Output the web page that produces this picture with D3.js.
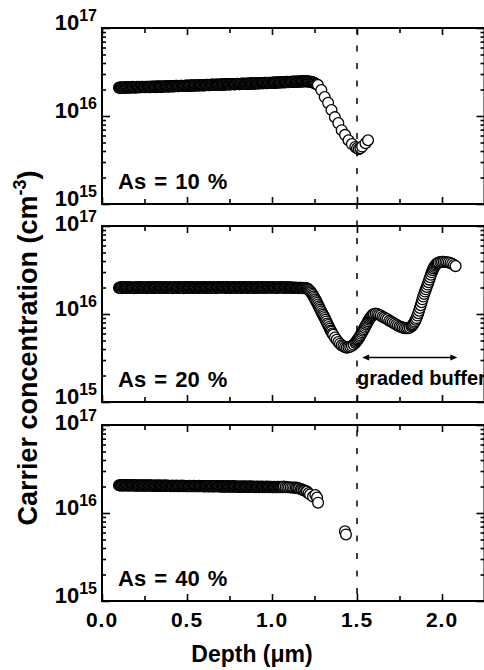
<!DOCTYPE html>
<html><head><meta charset="utf-8">
<script src="https://cdn.jsdelivr.net/npm/d3@7"></script>
<style>
html,body{margin:0;padding:0;background:#fff;overflow:hidden}
svg{display:block}
text{font-family:"Liberation Sans",Arial,Helvetica,sans-serif;font-weight:bold;fill:#000}
</style></head>
<body>
<svg id="chart" width="484" height="670"></svg>
<script>
// ---- data (depth in µm, carrier concentration in units of 1e16 cm^-3) ----
const depthA = [
0.100,0.105,0.110,0.115,0.120,0.125,0.130,0.135,0.140,0.145,0.150,0.155,0.160,0.165,0.170,0.175,0.180,0.185,0.190,0.195,
0.200,0.205,0.210,0.215,0.220,0.225,0.230,0.235,0.240,0.245,0.250,0.255,0.260,0.265,0.270,0.275,0.280,0.285,0.290,0.295,
0.300,0.305,0.310,0.315,0.320,0.325,0.330,0.335,0.340,0.345,0.350,0.355,0.360,0.365,0.370,0.375,0.380,0.385,0.390,0.395,
0.400,0.405,0.410,0.415,0.420,0.425,0.430,0.435,0.440,0.445,0.450,0.455,0.460,0.465,0.470,0.475,0.480,0.485,0.490,0.495,
0.500,0.505,0.510,0.515,0.520,0.525,0.530,0.535,0.540,0.545,0.550,0.555,0.560,0.565,0.570,0.575,0.580,0.585,0.590,0.595,
0.600,0.605,0.610,0.615,0.620,0.625,0.630,0.635,0.640,0.645,0.650,0.655,0.660,0.665,0.670,0.675,0.680,0.685,0.690,0.695,
0.700,0.705,0.710,0.715,0.720,0.725,0.730,0.735,0.740,0.745,0.750,0.755,0.760,0.765,0.770,0.775,0.780,0.785,0.790,0.795,
0.800,0.805,0.810,0.815,0.820,0.825,0.830,0.835,0.840,0.845,0.850,0.855,0.860,0.865,0.870,0.875,0.880,0.885,0.890,0.895,
0.900,0.905,0.910,0.915,0.920,0.925,0.930,0.935,0.940,0.945,0.950,0.955,0.960,0.965,0.970,0.975,0.980,0.985,0.990,0.995,
1.000,1.005,1.010,1.015,1.020,1.025,1.030,1.035,1.040,1.045,1.050,1.055,1.060,1.065,1.070,1.075,1.080,1.085,1.090,1.095,
1.100,1.105,1.110,1.115,1.120,1.125,1.130,1.135,1.140,1.145,1.150,1.155,1.160,1.165,1.170,1.175,1.180,1.185,1.190,1.195,
1.200,1.205,1.210,1.215,1.220,1.225,1.230,1.235,1.240,1.245,1.250,1.255,1.260,1.265,1.270,
1.29,1.31,1.33,1.35,1.37,1.39,1.41,1.43,1.45,1.47,1.49,1.50,1.51,1.52,1.53,1.55,1.565];
const concA = [
2.10,2.08,2.12,2.10,2.09,2.12,2.11,2.09,2.13,2.11,2.10,2.12,2.12,2.10,2.11,2.13,2.14,2.11,2.12,2.10,
2.13,2.15,2.11,2.13,2.14,2.12,2.12,2.14,2.15,2.12,2.13,2.15,2.12,2.14,2.15,2.13,2.14,2.12,2.16,2.14,
2.14,2.16,2.15,2.13,2.17,2.15,2.15,2.17,2.16,2.14,2.14,2.16,2.17,2.15,2.16,2.18,2.18,2.16,2.16,2.17,
2.17,2.19,2.19,2.17,2.17,2.19,2.18,2.20,2.20,2.18,2.18,2.20,2.19,2.21,2.21,2.19,2.19,2.21,2.20,2.22,
2.22,2.20,2.20,2.22,2.21,2.23,2.23,2.21,2.21,2.23,2.22,2.24,2.24,2.22,2.22,2.24,2.23,2.25,2.25,2.23,
2.23,2.25,2.24,2.26,2.26,2.24,2.24,2.26,2.25,2.27,2.27,2.25,2.25,2.27,2.26,2.28,2.28,2.26,2.26,2.28,
2.27,2.29,2.29,2.27,2.27,2.29,2.28,2.30,2.30,2.28,2.28,2.30,2.29,2.31,2.31,2.29,2.29,2.31,2.30,2.32,
2.32,2.30,2.30,2.32,2.31,2.33,2.33,2.31,2.31,2.33,2.32,2.34,2.34,2.32,2.33,2.35,2.35,2.33,2.33,2.35,
2.34,2.36,2.36,2.34,2.34,2.36,2.35,2.37,2.37,2.35,2.36,2.38,2.38,2.36,2.36,2.38,2.37,2.39,2.39,2.37,
2.38,2.40,2.40,2.38,2.39,2.41,2.41,2.39,2.40,2.42,2.42,2.40,2.41,2.43,2.43,2.41,2.42,2.44,2.44,2.42,
2.43,2.45,2.45,2.43,2.44,2.46,2.46,2.44,2.45,2.47,2.47,2.45,2.46,2.48,2.48,2.46,2.47,2.49,2.48,2.47,
2.48,2.48,2.47,2.47,2.46,2.45,2.44,2.43,2.41,2.39,2.37,2.34,2.31,2.28,2.25,
1.97,1.64,1.41,1.17,0.97,0.83,0.69,0.61,0.53,0.48,0.445,0.43,0.42,0.43,0.45,0.49,0.53];

const depthB = [
0.100,0.105,0.110,0.115,0.120,0.125,0.130,0.135,0.140,0.145,0.150,0.155,0.160,0.165,0.170,0.175,0.180,0.185,0.190,0.195,
0.200,0.205,0.210,0.215,0.220,0.225,0.230,0.235,0.240,0.245,0.250,0.255,0.260,0.265,0.270,0.275,0.280,0.285,0.290,0.295,
0.300,0.305,0.310,0.315,0.320,0.325,0.330,0.335,0.340,0.345,0.350,0.355,0.360,0.365,0.370,0.375,0.380,0.385,0.390,0.395,
0.400,0.405,0.410,0.415,0.420,0.425,0.430,0.435,0.440,0.445,0.450,0.455,0.460,0.465,0.470,0.475,0.480,0.485,0.490,0.495,
0.500,0.505,0.510,0.515,0.520,0.525,0.530,0.535,0.540,0.545,0.550,0.555,0.560,0.565,0.570,0.575,0.580,0.585,0.590,0.595,
0.600,0.605,0.610,0.615,0.620,0.625,0.630,0.635,0.640,0.645,0.650,0.655,0.660,0.665,0.670,0.675,0.680,0.685,0.690,0.695,
0.700,0.705,0.710,0.715,0.720,0.725,0.730,0.735,0.740,0.745,0.750,0.755,0.760,0.765,0.770,0.775,0.780,0.785,0.790,0.795,
0.800,0.805,0.810,0.815,0.820,0.825,0.830,0.835,0.840,0.845,0.850,0.855,0.860,0.865,0.870,0.875,0.880,0.885,0.890,0.895,
0.900,0.905,0.910,0.915,0.920,0.925,0.930,0.935,0.940,0.945,0.950,0.955,0.960,0.965,0.970,0.975,0.980,0.985,0.990,0.995,
1.000,1.005,1.010,1.015,1.020,1.025,1.030,1.035,1.040,1.045,1.050,1.055,1.060,1.065,1.070,1.075,1.080,1.085,1.090,1.095,
1.100,1.105,1.110,1.115,1.120,1.125,1.130,1.135,1.140,1.145,1.150,1.155,1.160,1.165,1.170,1.175,1.180,1.185,1.190,1.195,
1.200,1.205,1.210,1.215,1.220,1.225,1.230,1.235,1.240,1.245,1.250,1.255,1.260,1.265,1.270,1.275,1.280,1.285,1.290,1.295,
1.300,1.305,1.310,1.315,1.320,1.325,1.330,1.335,1.340,1.345,1.350,1.355,1.360,
1.37,1.38,1.39,1.40,1.41,1.42,1.43,1.44,1.45,1.46,1.47,1.48,1.49,
1.495,1.500,1.505,1.510,1.515,1.520,1.525,1.530,1.535,1.540,1.545,1.550,1.555,1.560,1.565,1.570,1.575,1.580,1.585,1.590,1.595,1.600,
1.61,1.62,1.63,1.64,1.65,1.66,1.67,1.68,1.69,1.70,1.71,1.72,1.73,1.74,1.75,1.76,1.77,1.78,1.79,1.80,1.81,
1.820,1.825,1.830,1.835,1.840,1.845,1.850,1.855,1.860,1.865,1.870,1.875,1.880,1.885,1.890,1.895,1.900,1.905,1.910,1.915,
1.920,1.925,1.930,1.935,1.940,1.945,1.950,1.955,1.960,1.965,1.970,1.975,1.980,
1.99,2.00,2.01,2.02,2.03,2.04,2.05,2.06,2.07,2.08];
const concB = [
1.98,2.01,2.00,1.97,2.01,2.02,1.99,1.98,2.00,2.02,1.98,2.00,2.02,1.99,1.99,2.01,2.00,1.97,1.98,2.01,
2.01,1.99,1.98,2.02,2.00,1.99,2.01,2.02,1.98,2.00,1.99,2.01,1.97,2.00,2.02,1.99,2.01,2.00,1.98,2.02,
1.98,2.00,2.01,1.99,1.99,2.02,2.00,1.98,2.01,2.02,1.99,1.98,2.00,2.01,2.02,1.99,1.98,2.00,2.01,1.99,
2.02,2.00,1.99,1.97,2.01,2.00,2.02,1.99,1.98,2.01,2.00,2.02,1.98,1.99,2.01,2.00,1.97,2.01,2.02,1.99,
2.00,1.98,2.02,2.01,1.99,2.00,2.02,1.98,2.01,1.99,2.00,2.01,1.98,2.02,2.00,1.99,2.01,2.00,1.98,2.02,
2.02,2.01,1.99,1.98,2.00,2.02,1.99,2.01,2.00,1.98,2.01,2.02,2.00,1.99,1.97,2.01,2.00,2.02,1.99,2.01,
2.00,2.01,1.99,2.02,2.00,1.98,2.01,2.00,2.02,1.99,2.01,1.98,2.00,2.01,1.99,2.02,2.00,1.98,2.01,2.00,
2.01,1.99,2.02,2.00,1.98,2.01,2.00,2.02,1.99,2.01,2.00,1.98,2.02,2.00,1.99,2.01,2.02,2.00,1.98,2.01,
1.99,2.01,2.00,1.98,2.02,2.00,2.01,1.99,2.00,2.02,2.00,1.98,2.01,2.00,1.99,2.02,2.00,2.01,1.99,2.00,
2.00,2.02,1.99,2.01,2.00,1.98,2.01,2.00,1.99,2.01,2.00,2.02,2.01,1.99,2.00,1.98,2.01,2.00,2.02,1.99,
2.00,1.99,2.01,2.00,1.99,1.98,2.00,1.99,1.99,1.98,1.98,1.97,1.99,1.98,1.98,1.97,1.98,1.97,1.97,1.97,
1.97,1.95,1.93,1.90,1.86,1.81,1.76,1.70,1.64,1.58,1.52,1.46,1.40,1.34,1.28,1.22,1.17,1.12,1.07,1.02,
0.98,0.94,0.90,0.86,0.82,0.78,0.75,0.71,0.68,0.65,0.63,0.60,0.58,
0.54,0.51,0.48,0.46,0.44,0.43,0.42,0.415,0.42,0.425,0.435,0.45,0.47,
0.485,0.50,0.515,0.53,0.55,0.57,0.595,0.62,0.645,0.67,0.70,0.73,0.76,0.79,0.825,0.86,0.89,0.92,0.945,0.97,0.985,1.00,
1.01,1.00,0.98,0.96,0.93,0.91,0.89,0.87,0.84,0.82,0.80,0.78,0.76,0.74,0.72,0.71,0.70,0.69,0.69,0.69,0.70,
0.72,0.74,0.76,0.79,0.82,0.86,0.90,0.96,1.02,1.09,1.17,1.26,1.36,1.47,1.58,1.69,1.80,1.91,2.03,2.16,
2.30,2.46,2.62,2.80,2.98,3.15,3.30,3.43,3.55,3.65,3.74,3.80,3.85,
3.90,3.92,3.92,3.90,3.88,3.85,3.80,3.72,3.60,3.50];

const depthC = [
0.100,0.105,0.110,0.115,0.120,0.125,0.130,0.135,0.140,0.145,0.150,0.155,0.160,0.165,0.170,0.175,0.180,0.185,0.190,0.195,
0.200,0.205,0.210,0.215,0.220,0.225,0.230,0.235,0.240,0.245,0.250,0.255,0.260,0.265,0.270,0.275,0.280,0.285,0.290,0.295,
0.300,0.305,0.310,0.315,0.320,0.325,0.330,0.335,0.340,0.345,0.350,0.355,0.360,0.365,0.370,0.375,0.380,0.385,0.390,0.395,
0.400,0.405,0.410,0.415,0.420,0.425,0.430,0.435,0.440,0.445,0.450,0.455,0.460,0.465,0.470,0.475,0.480,0.485,0.490,0.495,
0.500,0.505,0.510,0.515,0.520,0.525,0.530,0.535,0.540,0.545,0.550,0.555,0.560,0.565,0.570,0.575,0.580,0.585,0.590,0.595,
0.600,0.605,0.610,0.615,0.620,0.625,0.630,0.635,0.640,0.645,0.650,0.655,0.660,0.665,0.670,0.675,0.680,0.685,0.690,0.695,
0.700,0.705,0.710,0.715,0.720,0.725,0.730,0.735,0.740,0.745,0.750,0.755,0.760,0.765,0.770,0.775,0.780,0.785,0.790,0.795,
0.800,0.805,0.810,0.815,0.820,0.825,0.830,0.835,0.840,0.845,0.850,0.855,0.860,0.865,0.870,0.875,0.880,0.885,0.890,0.895,
0.900,0.905,0.910,0.915,0.920,0.925,0.930,0.935,0.940,0.945,0.950,0.955,0.960,0.965,0.970,0.975,0.980,0.985,0.990,0.995,
1.000,1.005,1.010,1.015,1.020,1.025,1.030,1.035,1.040,1.045,1.050,1.055,1.060,1.065,1.070,
1.08,1.09,1.10,1.11,1.12,1.13,1.14,1.147,1.155,1.16,1.17,1.176,1.185,1.19,1.20,1.206,1.215,1.224,1.241,1.255,1.265,1.271,1.429,1.435];
const concC = [
2.07,2.05,2.06,2.08,2.06,2.05,2.07,2.06,2.08,2.05,2.06,2.07,2.05,2.06,2.08,2.06,2.05,2.07,2.06,2.05,
2.06,2.04,2.05,2.07,2.05,2.04,2.06,2.05,2.07,2.04,2.05,2.06,2.04,2.05,2.07,2.05,2.04,2.06,2.05,2.04,
2.05,2.03,2.04,2.06,2.04,2.03,2.05,2.04,2.06,2.03,2.04,2.05,2.03,2.04,2.06,2.04,2.03,2.05,2.04,2.03,
2.04,2.02,2.03,2.05,2.03,2.02,2.04,2.03,2.05,2.02,2.03,2.04,2.02,2.03,2.05,2.03,2.02,2.04,2.03,2.02,
2.03,2.01,2.02,2.04,2.02,2.01,2.03,2.02,2.04,2.01,2.02,2.03,2.01,2.02,2.04,2.02,2.01,2.03,2.02,2.01,
2.02,2.00,2.01,2.03,2.01,2.00,2.02,2.01,2.03,2.00,2.01,2.02,2.00,2.01,2.03,2.01,2.00,2.02,2.01,2.00,
2.01,1.99,2.00,2.02,2.00,1.99,2.01,2.00,2.02,1.99,2.00,2.01,1.99,2.00,2.02,2.00,1.99,2.01,2.00,1.99,
2.00,1.98,1.99,2.01,1.99,1.98,2.00,1.99,2.01,1.98,1.99,2.00,1.98,1.99,2.01,1.99,1.98,2.00,1.99,1.98,
1.99,1.97,1.98,2.00,1.98,1.97,1.99,1.98,2.00,1.97,1.98,1.99,1.97,1.98,2.00,1.98,1.97,1.99,1.98,1.97,
1.98,1.96,1.97,1.99,1.97,1.96,1.98,1.97,1.99,1.96,1.97,1.98,1.96,1.97,2.00,
1.97,1.96,1.96,1.95,1.95,1.94,1.94,1.93,1.91,1.90,1.87,1.85,1.82,1.80,1.78,1.75,1.68,1.62,1.54,1.60,1.50,1.31,0.62,0.57];

const panelLabels = ["As = 10 %", "As = 20 %", "As = 40 %"];
const xTickValues = [0.0, 0.5, 1.0, 1.5, 2.0];
const xTickLabels = ["0.0", "0.5", "1.0", "1.5", "2.0"];
const xMinorValues = [0.25, 0.75, 1.25, 1.75];
const yDecades = [1e15, 1e16, 1e17];
const interfaceDepth = 1.5;
const bufferRange = [1.53, 2.09];
const bufferLevel = 0.32; // 1e16 units, arrow height
const bufferLabel = "graded buffer";

// ---- layout ----
const svg = d3.select("#chart");
const L = 102, R = 484.5, PH = 176;
const tops = [28, 226, 425];
const x = d3.scaleLinear().domain([0, 2.25]).range([L, R]);
const series = [[depthA, concA], [depthB, concB], [depthC, concC]];

tops.forEach((top, i) => {
  const y = d3.scaleLog().domain([1e15, 1e17]).range([top + PH, top]);
  const g = svg.append("g");
  const minorY = y.ticks().filter(v => !yDecades.some(d => Math.abs(d - v) / d < 1e-6));

  // points
  const pts = series[i][0].map((d, k) => ({d, c: series[i][1][k] * 1e16}));
  g.append("g").selectAll("circle").data(pts).join("circle")
    .attr("cx", p => x(p.d)).attr("cy", p => y(p.c)).attr("r", 5.4)
    .attr("fill", "#fff").attr("stroke", "#000").attr("stroke-width", 1.3);

  // axes ticks
  const tick = (sel) => { sel.select(".domain").remove(); sel.selectAll("line").attr("stroke", "#000").attr("stroke-width", 1.6); sel.selectAll("text").remove(); };
  g.append("g").attr("transform", `translate(0,${top + PH})`).call(d3.axisBottom(x).tickValues(xTickValues).tickSize(-7).tickFormat("")).call(tick);
  g.append("g").attr("transform", `translate(0,${top + PH})`).call(d3.axisBottom(x).tickValues(xMinorValues).tickSize(-5).tickFormat("")).call(tick);
  g.append("g").attr("transform", `translate(0,${top})`).call(d3.axisTop(x).tickValues(xTickValues).tickSize(-7).tickFormat("")).call(tick);
  g.append("g").attr("transform", `translate(0,${top})`).call(d3.axisTop(x).tickValues(xMinorValues).tickSize(-5).tickFormat("")).call(tick);
  g.append("g").attr("transform", `translate(${L},0)`).call(d3.axisLeft(y).tickValues(yDecades).tickSize(-8).tickFormat("")).call(tick);
  g.append("g").attr("transform", `translate(${L},0)`).call(d3.axisLeft(y).tickValues(minorY).tickSize(-4).tickFormat("")).call(tick);
  g.append("g").attr("transform", `translate(${R},0)`).call(d3.axisRight(y).tickValues(yDecades).tickSize(-8).tickFormat("")).call(tick);
  g.append("g").attr("transform", `translate(${R},0)`).call(d3.axisRight(y).tickValues(minorY).tickSize(-4).tickFormat("")).call(tick);

  // frame
  g.append("rect").attr("x", L).attr("y", top).attr("width", R - L).attr("height", PH)
    .attr("fill", "none").attr("stroke", "#000").attr("stroke-width", 2);

  // y tick labels
  yDecades.forEach(v => {
    const shift = (i > 0 && v === 1e17) ? 5 : 2;
    const t = g.append("text").attr("x", 97).attr("y", y(v) + shift).attr("text-anchor", "end").style("font-size", "22px");
    t.append("tspan").text("10");
    t.append("tspan").attr("dy", -9).style("font-size", "16px").text(String(Math.round(Math.log10(v))));
  });

  // panel label
  g.append("text").attr("x", 118).attr("y", top + 161).style("font-size", "22px").style("word-spacing", "2px")
    .text(panelLabels[i]);

  if (i === 1) {
    const ay = y(bufferLevel * 1e16);
    const x0 = x(bufferRange[0]), x1 = x(bufferRange[1]);
    g.append("line").attr("x1", x0 + 4).attr("x2", x1 - 4).attr("y1", ay).attr("y2", ay)
      .attr("stroke", "#000").attr("stroke-width", 1.5);
    g.append("path").attr("d", `M${x0},${ay} l7,-3 l0,6 z`).attr("fill", "#000");
    g.append("path").attr("d", `M${x1},${ay} l-7,-3 l0,6 z`).attr("fill", "#000");
    g.append("text").attr("x", x(interfaceDepth)).attr("y", top + 159).style("font-size", "20px")
      .text(bufferLabel);
  }
  if (i === 2) {
    g.selectAll(".xl").data(xTickValues).join("text").attr("class", "xl")
      .attr("x", v => x(v)).attr("y", top + PH + 26).attr("text-anchor", "middle")
      .style("font-size", "21px").style("letter-spacing", "1px")
      .text((v, k) => xTickLabels[k]);
  }
});

// interface dashed line
svg.append("line").attr("x1", x(interfaceDepth)).attr("x2", x(interfaceDepth))
  .attr("y1", tops[0]).attr("y2", tops[2] + PH)
  .attr("stroke", "#000").attr("stroke-width", 1.5).attr("stroke-dasharray", "6,11.5");

// axis titles
svg.append("text").attr("x", 252).attr("y", 662).attr("text-anchor", "middle").style("font-size", "23px")
  .text("Depth (\u03bcm)");
const yt = svg.append("text").attr("transform", "translate(37,348) rotate(-90)").attr("text-anchor", "middle").style("font-size", "27px");
yt.append("tspan").text("Carrier concentration (cm");
yt.append("tspan").attr("dy", -11).style("font-size", "18px").text("-3");
yt.append("tspan").attr("dy", 11).text(")");
</script>
</body></html>
